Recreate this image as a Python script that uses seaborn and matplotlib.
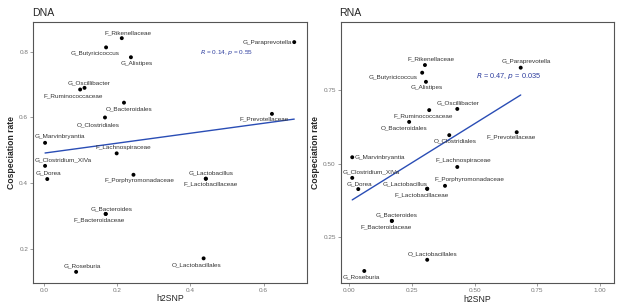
import matplotlib

matplotlib.use("Agg", force=True)
import matplotlib.pyplot as plt
import pandas as pd
import seaborn as sns

taxa = [
    "F_Rikenellaceae", "G_Butyricicoccus", "G_Alistipes", "G_Paraprevotella",
    "G_Oscillibacter", "F_Ruminococcaceae", "O_Bacteroidales", "O_Clostridiales",
    "F_Prevotellaceae", "G_Marvinbryantia", "F_Lachnospiraceae", "G_Clostridium_XIVa",
    "G_Dorea", "F_Porphyromonadaceae", "G_Lactobacillus", "F_Lactobacillaceae",
    "G_Bacteroides", "F_Bacteroidaceae", "G_Roseburia", "O_Lactobacillales",
]

dna_h2 = [0.212, 0.169, 0.237, 0.684, 0.110, 0.098, 0.218, 0.166, 0.623, 0.002,
          0.198, 0.002, 0.008, 0.244, 0.442, 0.442, 0.168, 0.168, 0.087, 0.436]
dna_rate = [0.841, 0.813, 0.783, 0.829, 0.690, 0.685, 0.645, 0.600, 0.611, 0.523,
            0.491, 0.453, 0.413, 0.426, 0.414, 0.414, 0.307, 0.307, 0.131, 0.172]

rna_h2 = [0.302, 0.291, 0.306, 0.684, 0.431, 0.319, 0.239, 0.399, 0.668, 0.012,
          0.431, 0.012, 0.036, 0.382, 0.311, 0.311, 0.170, 0.170, 0.060, 0.311]
rna_rate = [0.835, 0.809, 0.778, 0.826, 0.686, 0.682, 0.642, 0.597, 0.607, 0.522,
            0.489, 0.452, 0.414, 0.425, 0.415, 0.415, 0.306, 0.306, 0.136, 0.174]

dna_stat = "$R$ = 0.14, $p$ = 0.55"
rna_stat = "$R$ = 0.47, $p$ = 0.035"

# label offsets in pixels (dx right, dy down) -- hand placed like ggrepel did
dna_off = [(6, -5), (-11, 6), (6, 6), (-27, 0), (5, -5), (-7, 6), (5, 6), (-7, 7),
           (-8, 5), (15, -6), (7, -6), (18, -6), (1, -6), (6, 6), (5, -6), (5, 5),
           (6, -5), (-7, 6), (6, -6), (-7, 6)]
rna_off = [(6, -6), (-29, 5), (1, 6), (6, -6), (1, -6), (-6, 6), (-5, 6), (6, 6),
           (-6, 5), (28, 0), (6, -6), (19, -6), (1, -5), (24, -6), (-22, -5), (-6, 6),
           (5, -6), (-6, 6), (-3, 6), (5, -6)]

sns.set_theme(style="white")
plt.rcParams["font.family"] = ["Liberation Sans", "DejaVu Sans"]

fig = plt.figure(figsize=(6.17, 3.06), dpi=100)
ax_dna = fig.add_axes([0.0535, 0.075, 0.4441, 0.853])
ax_rna = fig.add_axes([0.5522, 0.074, 0.4429, 0.855])

line_col = "#2a4db5"
stat_col = "#2d3d9e"
grey = "#555555"


def panel(ax, h2, rate, off, stat, stat_xy, stat_size, title, xlim, ylim,
          xticks, xfmt, yticks, yfmt):
    df = pd.DataFrame({"taxon": taxa, "h2SNP": h2, "rate": rate})
    sns.regplot(data=df, x="h2SNP", y="rate", scatter=False, ci=None, ax=ax,
                line_kws={"color": line_col, "lw": 1.0})
    sns.scatterplot(data=df, x="h2SNP", y="rate", ax=ax, color="black", s=8,
                    edgecolor="none", zorder=3)
    for t, x, y, (dx, dy) in zip(taxa, h2, rate, off):
        ax.annotate(t, (x, y), xytext=(dx * 0.72, -dy * 0.72), textcoords="offset points",
                    ha="center", va="center", fontsize=4.6, color="#333333")
    ax.text(stat_xy[0], stat_xy[1], stat, transform=ax.transAxes, fontsize=stat_size,
            color=stat_col, ha="left", va="center")
    ax.set_xlim(*xlim)
    ax.set_ylim(*ylim)
    ax.set_xticks(xticks)
    ax.set_xticklabels([xfmt.format(v) for v in xticks])
    ax.set_yticks(yticks)
    ax.set_yticklabels([yfmt.format(v) for v in yticks])
    ax.tick_params(axis="both", labelsize=4.6, labelcolor="#777777", length=2,
                   width=0.5, color="#777777", pad=1.5, bottom=True, left=True)
    for s in ax.spines.values():
        s.set_color(grey)
        s.set_linewidth(0.8)
    ax.set_xlabel("h2SNP", fontsize=6.2, labelpad=1)
    ax.set_ylabel("Cospeciation rate", fontsize=6.2, labelpad=2, fontweight="semibold")
    ax.set_title(title, fontsize=7.6, loc="left", pad=4, x=-0.005)
    ax.grid(False)


panel(ax_dna, dna_h2, dna_rate, dna_off, dna_stat, (0.61, 0.884), 4.6, "DNA",
      (-0.031, 0.719), (0.097, 0.890), [0.0, 0.2, 0.4, 0.6], "{:.1f}",
      [0.2, 0.4, 0.6, 0.8], "{:.1f}")
panel(ax_rna, rna_h2, rna_rate, rna_off, rna_stat, (0.495, 0.794), 5.3, "RNA",
      (-0.034, 1.056), (0.094, 0.982), [0.0, 0.25, 0.5, 0.75, 1.0], "{:.2f}",
      [0.25, 0.5, 0.75], "{:.2f}")

fig.savefig("out.png", dpi=100)
